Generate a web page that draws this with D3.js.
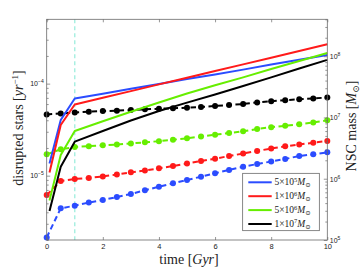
<!doctype html>
<html lang="en">
<head>
	<meta charset="UTF-8">
	<title>disrupted stars and NSC mass</title>
	<style>
		body { margin: 0; background: #fff; }
		svg text { font-family: "Liberation Sans", Arial, sans-serif; fill: #222; }
		.serif { font-family: "Liberation Serif", "DejaVu Serif", serif; }
	</style>
</head>
<body>
	<script src="https://cdn.jsdelivr.net/npm/d3@7/dist/d3.min.js"></script>
	<script>
		// time grids [Gyr]
		var massTimes = [0, 0.5, 1, 1.5, 2, 2.5, 3, 3.5, 4, 4.5, 5, 5.5, 6, 6.5, 7, 7.5, 8, 8.5, 9, 9.5, 10];
		var rateTimes = [0.1, 0.5, 1, 2, 3, 4, 5, 6, 7, 8, 9, 10];

		// disrupted stars [1/yr], solid lines, left axis
		var rateBlue  = [1.36e-5, 4.02e-5, 6.89e-5, 7.78e-5, 8.79e-5, 9.91e-5, 1.12e-4, 1.26e-4, 1.42e-4, 1.61e-4, 1.82e-4, 2.05e-4];
		var rateRed   = [1.08e-5, 3.55e-5, 5.93e-5, 7.02e-5, 8.29e-5, 9.81e-5, 1.16e-4, 1.37e-4, 1.62e-4, 1.91e-4, 2.26e-4, 2.68e-4];
		var rateGreen = [5.37e-6, 1.68e-5, 3.06e-5, 3.90e-5, 4.94e-5, 6.24e-5, 7.81e-5, 9.59e-5, 1.17e-4, 1.44e-4, 1.76e-4, 2.15e-4];
		var rateBlack = [4.13e-6, 1.25e-5, 2.34e-5, 3.06e-5, 3.98e-5, 5.04e-5, 6.22e-5, 7.62e-5, 9.42e-5, 1.17e-4, 1.46e-4, 1.81e-4];

		// NSC mass [Msun], dashed lines with dots, right axis
		var massBlue  = [1.10e5, 3.29e5, 3.63e5, 4.09e5, 4.50e5, 5.03e5, 5.63e5, 6.48e5, 7.41e5, 8.42e5, 9.54e5,
			1.08e6, 1.23e6, 1.39e6, 1.57e6, 1.74e6, 1.91e6, 2.10e6, 2.35e6, 2.50e6, 2.70e6];
		var massRed   = [5.43e5, 9.18e5, 9.90e5, 1.03e6, 1.09e6, 1.17e6, 1.27e6, 1.36e6, 1.48e6, 1.61e6, 1.77e6,
			1.95e6, 2.12e6, 2.35e6, 2.58e6, 2.84e6, 3.11e6, 3.38e6, 3.62e6, 3.87e6, 4.13e6];
		var massGreen = [2.50e6, 3.02e6, 3.30e6, 3.40e6, 3.51e6, 3.62e6, 3.76e6, 3.93e6, 4.10e6, 4.32e6, 4.57e6,
			4.89e6, 5.23e6, 5.58e6, 5.94e6, 6.48e6, 6.93e6, 7.31e6, 7.76e6, 8.28e6, 8.99e6];
		var massBlack = [1.12e7, 1.16e7, 1.21e7, 1.24e7, 1.27e7, 1.29e7, 1.32e7, 1.36e7, 1.39e7, 1.41e7, 1.44e7,
			1.48e7, 1.54e7, 1.59e7, 1.66e7, 1.76e7, 1.84e7, 1.91e7, 1.98e7, 2.04e7, 2.12e7];

		// legend: mantissa and exponent of the NSC mass
		var legendMantissa = ['5', '1', '5', '1'];
		var legendExponent = ['5', '6', '6', '7'];

		var xTicks = [0, 2, 4, 6, 8, 10];
		var leftExp = [-5, -4];
		var rightExp = [5, 6, 7, 8];

		var colors = ['#2b4cff', '#ff1a1a', '#66ee00', '#000000'];
		var rateSeries = [rateBlue, rateRed, rateGreen, rateBlack];
		var massSeries = [massBlue, massRed, massGreen, massBlack];

		var w = 361,
			h = 271,
			plotL = 46.7,
			plotR = 327.3,
			plotT = 19.3,
			plotB = 240;

		var svg = d3.select('body').append('svg')
			.attr('width', w)
			.attr('height', h);

		var xScale = d3.scaleLinear().domain([0, 10]).range([plotL, plotR]);
		var yLeft = d3.scaleLog().domain([2e-6, 5e-4]).range([plotB, plotT]);
		var yRight = d3.scaleLog().domain([1e5, 4e8]).range([plotB, plotT]);

		// minor ticks for a log domain
		var logMinor = function(lo, hi) {
			var out = [];
			for (var e = Math.floor(Math.log10(lo)); e <= Math.ceil(Math.log10(hi)); e++) {
				for (var m = 2; m <= 9; m++) {
					var v = m * Math.pow(10, e);
					if (v >= lo && v <= hi) out.push(v);
				}
			}
			return out;
		};

		// vertical marker at 1 Gyr
		svg.append('line')
			.attr('x1', xScale(1)).attr('x2', xScale(1))
			.attr('y1', plotT).attr('y2', plotB)
			.attr('stroke', '#a4efe0')
			.attr('stroke-width', 1.4)
			.attr('stroke-dasharray', '4,3');

		// dashed mass lines with dots
		var massLine = d3.line()
			.x(function(d, i) { return xScale(massTimes[i]); })
			.y(function(d) { return yRight(d); });

		massSeries.forEach(function(s, k) {
			svg.append('path')
				.attr('d', massLine(s))
				.attr('fill', 'none')
				.attr('stroke', colors[k])
				.attr('stroke-width', 2)
				.attr('stroke-dasharray', '5.5,3.5');
			svg.append('g').selectAll('circle')
				.data(s)
				.enter()
				.append('circle')
				.attr('cx', function(d, i) { return xScale(massTimes[i]); })
				.attr('cy', function(d) { return yRight(d); })
				.attr('r', 3)
				.attr('fill', colors[k]);
		});

		// solid rate lines
		var rateLine = d3.line()
			.x(function(d, i) { return xScale(rateTimes[i]); })
			.y(function(d) { return yLeft(d); });

		rateSeries.forEach(function(s, k) {
			svg.append('path')
				.attr('d', rateLine(s))
				.attr('fill', 'none')
				.attr('stroke', colors[k])
				.attr('stroke-width', 2)
				.attr('stroke-linejoin', 'round');
		});

		// axes: ticks point inward
		var axisColor = '#6a6a6a';

		var gx = svg.append('g').attr('transform', 'translate(0,' + plotB + ')')
			.call(d3.axisBottom(xScale).tickValues(xTicks).tickSize(-3).tickPadding(4).tickFormat(d3.format('d')));
		svg.append('g').attr('transform', 'translate(0,' + plotT + ')')
			.call(d3.axisTop(xScale).tickValues(xTicks).tickSize(-3).tickFormat(''));

		svg.append('g').attr('transform', 'translate(' + plotL + ',0)')
			.call(d3.axisLeft(yLeft).tickValues(logMinor(2e-6, 5e-4)).tickSize(-2).tickFormat(''));
		svg.append('g').attr('transform', 'translate(' + plotL + ',0)')
			.call(d3.axisLeft(yLeft).tickValues(leftExp.map(function(e) { return Math.pow(10, e); })).tickSize(-3.5).tickFormat(''));
		svg.append('g').attr('transform', 'translate(' + plotR + ',0)')
			.call(d3.axisRight(yRight).tickValues(logMinor(1e5, 4e8)).tickSize(-2).tickFormat(''));
		svg.append('g').attr('transform', 'translate(' + plotR + ',0)')
			.call(d3.axisRight(yRight).tickValues(rightExp.map(function(e) { return Math.pow(10, e); })).tickSize(-3.5).tickFormat(''));

		svg.selectAll('.domain').remove();
		svg.selectAll('.tick line').attr('stroke', axisColor).attr('stroke-width', 0.7);
		gx.selectAll('text').attr('font-size', 7.5).attr('fill', '#222');

		// power-of-ten labels
		var powerLabel = function(xPos, yPos, exp, anchor) {
			var t = svg.append('text')
				.attr('x', xPos)
				.attr('y', yPos)
				.attr('font-size', 7)
				.attr('text-anchor', anchor);
			t.append('tspan').text('10');
			t.append('tspan').attr('dy', -3).attr('font-size', 5).text(exp < 0 ? '\u2212' + (-exp) : exp);
		};

		leftExp.forEach(function(e) {
			powerLabel(plotL - 3, yLeft(Math.pow(10, e)) + 2.5, e, 'end');
		});
		rightExp.forEach(function(e) {
			powerLabel(plotR + 2.5, yRight(Math.pow(10, e)) + 3, e, 'start');
		});

		// plot box
		svg.append('rect')
			.attr('x', plotL).attr('y', plotT)
			.attr('width', plotR - plotL).attr('height', plotB - plotT)
			.attr('fill', 'none')
			.attr('stroke', axisColor)
			.attr('stroke-width', 0.8);

		// legend
		var lg = svg.append('g');
		lg.append('rect')
			.attr('x', 242.7).attr('y', 173.3)
			.attr('width', 76.6).attr('height', 57.4)
			.attr('fill', '#fff')
			.attr('stroke', '#555')
			.attr('stroke-width', 0.7);
		colors.forEach(function(c, i) {
			var yy = 182.3 + i * 13.9;
			lg.append('line')
				.attr('x1', 248.3).attr('x2', 271.7)
				.attr('y1', yy).attr('y2', yy)
				.attr('stroke', c)
				.attr('stroke-width', 2);
			var t = lg.append('text')
				.attr('class', 'serif')
				.attr('x', 274.5)
				.attr('y', yy + 3)
				.attr('font-size', 9.5);
			t.append('tspan').text(legendMantissa[i] + '\u00d710');
			t.append('tspan').attr('dy', -3.6).attr('font-size', 6.5).text(legendExponent[i]);
			t.append('tspan').attr('dy', 3.6).attr('font-style', 'italic').text('M');
			t.append('tspan').attr('dy', 2).attr('font-size', 6.5).text('\u2299');
		});

		// axis titles
		var xt = svg.append('text')
			.attr('class', 'serif')
			.attr('x', 189)
			.attr('y', 264)
			.attr('text-anchor', 'middle')
			.attr('font-size', 14);
		xt.append('tspan').text('time [');
		xt.append('tspan').attr('font-style', 'italic').text('Gyr');
		xt.append('tspan').text(']');

		var yt = svg.append('text')
			.attr('class', 'serif')
			.attr('transform', 'translate(22.5,128) rotate(-90)')
			.attr('text-anchor', 'middle')
			.attr('font-size', 14);
		yt.append('tspan').text('disrupted stars [');
		yt.append('tspan').attr('font-style', 'italic').text('yr');
		yt.append('tspan').attr('dy', -4.5).attr('font-size', 9).text('\u22121');
		yt.append('tspan').attr('dy', 4.5).text(']');

		var rt = svg.append('text')
			.attr('class', 'serif')
			.attr('transform', 'translate(356,126) rotate(-90)')
			.attr('text-anchor', 'middle')
			.attr('font-size', 14);
		rt.append('tspan').text('NSC mass [');
		rt.append('tspan').attr('font-style', 'italic').text('M');
		rt.append('tspan').attr('dy', 3).attr('font-size', 9).text('\u2299');
		rt.append('tspan').attr('dy', -3).text(']');
	</script>
</body>
</html>
